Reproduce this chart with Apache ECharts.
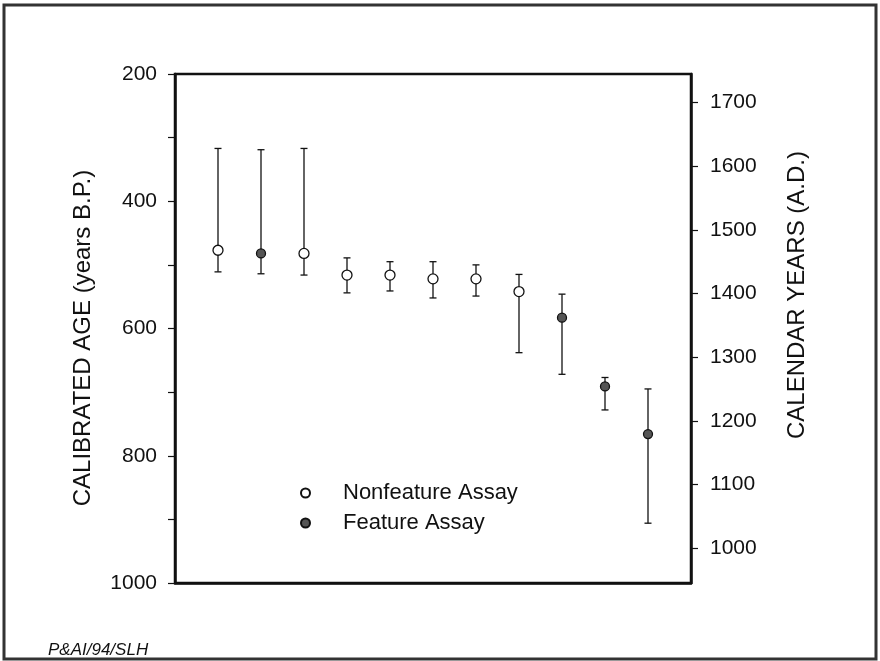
<!DOCTYPE html>
<html>
<head>
<meta charset="utf-8">
<script src="https://cdn.jsdelivr.net/npm/echarts@6/dist/echarts.min.js"></script>
<style>
html,body{margin:0;padding:0;background:#fff;}
#chart{width:880px;height:661px;}
</style>
</head>
<body>
<div id="chart"></div>
<script>
// ---- data ----
const sampleIndex   = [1, 2, 3, 4, 5, 6, 7, 8, 9, 10, 11];
const calibratedAge = [477, 482, 482, 516, 516, 522, 522, 542, 583, 691, 766];
const ageYoungest   = [317, 319, 317, 489, 495, 495, 500, 515, 546, 677, 695];
const ageOldest     = [511, 514, 516, 544, 541, 552, 549, 638, 672, 728, 906];
const assayType     = ['Nonfeature','Feature','Nonfeature','Nonfeature','Nonfeature','Nonfeature','Nonfeature','Nonfeature','Feature','Feature','Feature'];
const leftTicks     = [200, 400, 600, 800, 1000];
const rightTicks    = [1000, 1100, 1200, 1300, 1400, 1500, 1600, 1700];
const legendNames   = ['Nonfeature Assay', 'Feature Assay'];

const FONT = '"Liberation Sans", Arial, sans-serif';
const INK = '#111';

const nonfeature = [], feature = [], bars = [];
sampleIndex.forEach((x, i) => {
  const p = [x, calibratedAge[i]];
  if (assayType[i] === 'Feature') feature.push(p); else nonfeature.push(p);
  bars.push([x, ageYoungest[i], ageOldest[i]]);
});

const chart = echarts.init(document.getElementById('chart'), null, {renderer: 'canvas'});
chart.setOption({
  backgroundColor: '#fff',
  animation: false,
  grid: {left: 175, right: 189, top: 74, bottom: 78, show: true, borderColor: INK, borderWidth: 2.5, backgroundColor: 'transparent'},
  xAxis: {
    type: 'value', min: 0, max: 12,
    axisLine: {show: true, lineStyle: {color: INK, width: 2.5}},
    axisTick: {show: false}, axisLabel: {show: false}, splitLine: {show: false}
  },
  yAxis: [{
    type: 'value', min: 200, max: 1000, interval: 100, inverse: true, position: 'left',
    axisLine: {show: true, onZero: false, lineStyle: {color: INK, width: 2.5}},
    axisTick: {show: true, inside: false, length: 7, lineStyle: {color: INK, width: 1.2}},
    axisLabel: {margin: 18, color: INK, fontSize: 21, fontFamily: FONT,
      formatter: v => leftTicks.indexOf(v) >= 0 ? String(v) : ''},
    splitLine: {show: false}
  }, {
    type: 'value', min: 945, max: 1745, interval: 5, position: 'right',
    axisLine: {show: true, onZero: false, lineStyle: {color: INK, width: 2.5}},
    axisTick: {show: true, inside: false, length: 7, customValues: rightTicks, lineStyle: {color: INK, width: 1.2}},
    axisLabel: {margin: 19, color: INK, fontSize: 21, fontFamily: FONT, customValues: rightTicks,
      formatter: v => String(v)},
    splitLine: {show: false}
  }],
  legend: {
    data: legendNames, orient: 'vertical', left: 295, top: 477,
    itemWidth: 9, itemHeight: 9, itemGap: 8,
    textStyle: {fontSize: 22, fontFamily: FONT, color: INK, lineHeight: 22, padding: [0, 0, 0, 28]}
  },
  series: [{
    type: 'custom', name: 'range', yAxisIndex: 0, z: 1,
    data: bars,
    renderItem: function (params, api) {
      const x = api.value(0);
      const top = api.coord([x, api.value(1)]);
      const bot = api.coord([x, api.value(2)]);
      const hw = 3.5;
      const st = {stroke: INK, lineWidth: 1.3};
      return {type: 'group', children: [
        {type: 'line', shape: {x1: top[0], y1: top[1], x2: bot[0], y2: bot[1]}, style: st},
        {type: 'line', shape: {x1: top[0]-hw, y1: top[1], x2: top[0]+hw, y2: top[1]}, style: st},
        {type: 'line', shape: {x1: bot[0]-hw, y1: bot[1], x2: bot[0]+hw, y2: bot[1]}, style: st}
      ]};
    },
    silent: true
  }, {
    type: 'scatter', name: legendNames[0], yAxisIndex: 0, z: 3,
    symbol: 'circle', symbolSize: 10,
    itemStyle: {color: '#fff', borderColor: INK, borderWidth: 1.3, opacity: 1},
    data: nonfeature
  }, {
    type: 'scatter', name: legendNames[1], yAxisIndex: 0, z: 3,
    symbol: 'circle', symbolSize: 9,
    itemStyle: {color: '#555', borderColor: INK, borderWidth: 1.3, opacity: 1},
    data: feature
  }],
  graphic: [
    {type: 'rect', shape: {x: 4, y: 5, width: 872, height: 654},
     style: {fill: 'none', stroke: '#333', lineWidth: 3}, silent: true},
    {type: 'text', x: 83, y: 338, rotation: Math.PI / 2,
     style: {text: 'CALIBRATED AGE (years B.P.)', font: '24px ' + FONT, fill: INK, textAlign: 'center', textVerticalAlign: 'middle'}},
    {type: 'text', x: 797, y: 295, rotation: Math.PI / 2,
     style: {text: 'CALENDAR YEARS (A.D.)', font: '24px ' + FONT, fill: INK, textAlign: 'center', textVerticalAlign: 'middle'}},
    {type: 'text', x: 48, y: 650,
     style: {text: 'P&AI/94/SLH', font: 'italic 17px ' + FONT, fill: INK, textAlign: 'left', textVerticalAlign: 'middle'}}
  ]
});
</script>
</body>
</html>
